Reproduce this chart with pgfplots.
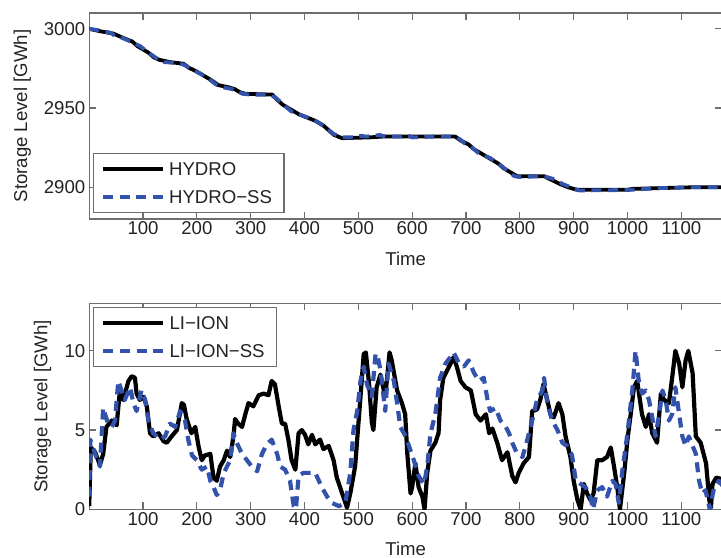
\documentclass[border=0pt]{standalone}
\usepackage{fontspec}
\setmainfont{Liberation Sans}
\usepackage{pgfplots}
\pgfplotsset{compat=1.18}
\definecolor{axgray}{RGB}{110,110,110}
\definecolor{txt}{RGB}{35,35,35}
\definecolor{ssblue}{RGB}{50,82,172}
\begin{document}
\begin{tikzpicture}
\pgfplotsset{
  every axis/.append style={
    scale only axis, width=316.5pt, height=103pt,
    xmin=0, xmax=1176,
    axis line style={axgray, line width=0.6pt},
    every tick/.style={axgray, line width=0.6pt},
    tick align=inside, major tick length=3.5pt,
    xtick={100,200,...,1100},
    font=\fontsize{9.3}{11}\selectfont,
    tick label style={txt},
    /pgf/number format/assume math mode=true,
    /pgf/number format/1000 sep={},
    xticklabel style={inner ysep=1.2pt},
    yticklabel style={inner xsep=1.8pt},
    xlabel={Time}, ylabel={Storage Level [GWh]},
    every axis x label/.style={at={(axis description cs:0.5,0)}, anchor=center, yshift=-20pt, txt},
    legend cell align=left,
    legend image code/.code={\draw[#1] (0pt,0pt) -- (30pt,0pt);},
    legend style={draw=axgray, line width=0.6pt, fill=white, inner xsep=4pt, inner ysep=2.6pt, row sep=3.45pt,
      nodes={inner sep=2pt, text depth=0pt, txt}, font=\fontsize{9.3}{11}\selectfont},
  }
}
\begin{axis}[at={(44.6pt,169pt)}, anchor=south west,
  ymin=2880, ymax=3010, ytick={2900,2950,3000},
  every axis y label/.style={at={(axis description cs:-0.1055,0.5)}, rotate=90, anchor=center, txt},
  legend style={at={(0,0)}, anchor=south west, xshift=1.75pt, yshift=2.85pt}]
\addplot[black, line width=1.9pt, line join=round] coordinates {
(0,3000) (20,2998.5) (45,2997) (55,2995.5) (65,2994) (80,2992) (90,2989) (100,2987) (110,2985) (120,2982)
(130,2980.5) (150,2979) (175,2978) (185,2975.5) (200,2973) (215,2970) (225,2968) (240,2964.5) (260,2963)
(270,2962) (280,2960) (290,2959) (340,2958.5) (350,2955) (360,2952) (375,2949) (390,2946) (405,2944)
(420,2942) (435,2939) (445,2936) (455,2933) (470,2931) (520,2931.5) (545,2932) (680,2932) (690,2929.5)
(705,2927) (715,2924) (730,2921) (745,2918) (760,2915) (770,2912) (785,2909) (795,2907) (845,2907)
(860,2904.5) (875,2902) (890,2900) (905,2898.5) (1000,2898.5) (1010,2899) (1060,2899.5) (1120,2900) (1176,2900)};
\addlegendentry{HYDRO}
\addplot[ssblue, line width=1.9pt, dash pattern=on 5pt off 3.3pt, line join=round] coordinates {
(0,3000) (20,2999) (40,2997.5) (50,2995) (60,2994.5) (80,2991.5) (95,2989) (110,2985) (125,2981.5) (140,2979)
(160,2978.5) (175,2977.5) (190,2974.5) (205,2972) (220,2969) (235,2965) (250,2963) (265,2962) (285,2959)
(300,2958.5) (330,2958.5) (345,2957) (360,2952.5) (375,2948) (390,2946) (410,2943.5) (425,2941) (440,2937.5)
(455,2933.5) (470,2931.5) (490,2931.5) (505,2932.5) (515,2932) (540,2933) (550,2932) (580,2932) (590,2933)
(600,2931.5) (640,2932) (680,2932) (690,2930) (700,2927) (712,2925) (725,2921) (745,2918.5) (760,2915)
(775,2911) (790,2907) (800,2906.5) (845,2907) (865,2905) (880,2902) (895,2900) (910,2898) (1000,2898.3)
(1060,2899.5) (1120,2900) (1176,2900)};
\addlegendentry{HYDRO−SS}
\end{axis}
\begin{axis}[at={(44.6pt,23.85pt)}, anchor=south west,
  ymin=0, ymax=13, ytick={0,5,10},
  every axis y label/.style={at={(axis description cs:-0.0735,0.5)}, rotate=90, anchor=center, txt},
  legend style={at={(0,1)}, anchor=north west, xshift=1.75pt, yshift=-1.85pt}]
\addplot[black, line width=2.1pt, line join=round] coordinates {
(0,0.2) (3,3.9) (11,3.6) (20,2.8) (26,3.5) (32,5.2) (42,5.6) (51,5.3) (57,7.5) (63,6.9) (73,8.1) (79,8.4)
(85,8.3) (88,7.3) (94,6.9) (101,7.1) (107,6.5) (113,4.8) (119,4.6) (129,4.8) (138,4.3) (144,4.2) (153,4.6)
(163,5.0) (172,6.7) (176,6.6) (181,5.7) (190,4.8) (197,5.2) (203,4.0) (209,3.1) (215,3.4) (225,3.5) (231,2.0)
(237,1.8) (243,2.7) (250,3.1) (256,3.7) (262,3.3) (268,4.6) (271,5.7) (277,5.4) (284,5.2) (290,6.0) (296,6.7)
(305,6.5) (315,7.2) (324,7.3) (333,7.2) (339,8.1) (345,7.9) (352,6.5) (358,5.4) (364,5.4) (370,4.4) (376,3.1)
(383,2.5) (389,4.8) (395,5.0) (401,4.7) (407,4.1) (414,4.7) (420,4.1) (429,4.4) (435,3.8) (445,4.0) (454,3.1)
(460,2.0) (470,1.0) (479,0.1) (485,1.0) (494,2.7) (504,7.1) (510,9.8) (514,9.9) (520,7.9) (525,5.5) (528,5.0)
(534,7.7) (541,8.5) (550,7.1) (558,9.9) (562,9.4) (572,7.5) (581,6.7) (587,6.0) (591,3.5) (597,1.0) (600,1.4)
(606,2.9) (612,1.4) (619,0.8) (623,0) (628,2.3) (634,3.7) (643,4.2) (649,4.8) (652,6.9) (658,8.3) (667,8.9)
(677,9.6) (683,9.0) (690,8.1) (699,7.7) (709,7.5) (718,6.0) (727,5.6) (737,6.0) (743,4.8) (749,5.1) (758,4.2)
(767,3.1) (777,3.6) (786,2.1) (792,1.7) (798,2.3) (807,2.9) (817,3.3) (823,6.2) (832,6.3) (838,6.9) (844,7.9)
(851,6.9) (857,6.0) (863,5.8) (872,6.7) (879,6.0) (885,4.6) (894,3.3) (900,1.8) (907,0.6) (913,0) (919,1.6)
(925,1.0) (931,0.6) (937,1.0) (944,3.1) (953,3.1) (962,3.3) (969,3.9) (975,2.7) (981,1.4) (986,0) (994,2.3)
(1000,4.4) (1006,6.0) (1012,7.7) (1018,8.1) (1027,6.0) (1034,5.2) (1040,6.0) (1046,4.8) (1055,4.2) (1062,7.3)
(1068,6.9) (1077,6.7) (1083,8.3) (1089,10) (1096,9.2) (1102,7.7) (1108,9.4) (1113,10) (1121,8.6) (1127,4.6)
(1136,4.2) (1146,2.9) (1152,0.6) (1155,0.1) (1158,1.6) (1165,2.0) (1176,1.9)};
\addlegendentry{LI−ION}
\addplot[ssblue, line width=2.1pt, dash pattern=on 5pt off 3.3pt, line join=round] coordinates {
(0,0.8) (2,4.4) (11,3.5) (20,2.7) (26,6.4) (35,5.4) (42,5.2) (48,5.6) (54,8.1) (60,7.5) (66,6.9) (76,7.7)
(82,6.7) (88,6.2) (97,7.5) (104,6.9) (110,5.6) (119,4.8) (132,4.4) (141,4.6) (150,5.4) (160,5.2) (169,6.2)
(178,5.6) (184,4.4) (191,3.4) (200,3.1) (209,2.5) (219,2.7) (225,1.8) (231,1.4) (237,0.9) (243,1.2) (250,2.3)
(256,2.7) (262,3.1) (268,4.8) (274,4.2) (284,3.5) (293,3.1) (302,2.7) (312,2.4) (321,3.5) (330,4.1) (339,4.4)
(349,3.5) (355,2.7) (364,2.5) (373,1.8) (380,0.2) (384,0) (389,2.1) (398,2.3) (411,2.3) (420,2.3) (432,1.4)
(442,0.8) (451,0.4) (464,0.2) (476,0.4) (485,2.3) (491,5.0) (498,6.2) (504,8.1) (510,9.0) (516,7.9) (525,7.1)
(532,9.8) (535,9.8) (541,8.8) (547,7.1) (550,6.2) (556,9.2) (566,8.1) (572,6.7) (578,5.2) (588,4.6) (594,4.0)
(603,3.1) (612,2.1) (622,1.6) (628,2.7) (634,4.8) (643,6.0) (652,8.3) (662,9.2) (671,9.6) (677,9.9) (687,9.2)
(696,9.0) (705,9.4) (715,8.6) (724,8.1) (733,8.3) (740,6.9) (745,6.2) (755,6.4) (764,5.6) (774,5.2) (780,4.8)
(786,4.2) (795,3.5) (805,3.3) (814,4.4) (823,5.6) (832,6.9) (842,7.5) (845,8.3) (851,6.7) (860,5.6) (870,5.0)
(879,4.2) (888,4.0) (897,3.4) (904,1.8) (913,1.6) (922,1.4) (931,0.8) (936,0) (944,1.2) (953,1.4) (962,0.8)
(972,1.8) (978,1.6) (984,0.4) (990,2.3) (1000,4.8) (1009,7.5) (1015,10) (1021,8.1) (1027,7.3) (1034,7.5)
(1040,6.9) (1046,5.8) (1052,4.6) (1059,6.0) (1065,7.5) (1071,6.9) (1077,5.6) (1083,6.0) (1089,7.7) (1096,6.0)
(1102,4.6) (1108,4.0) (1114,4.6) (1121,4.0) (1127,3.5) (1133,1.8) (1139,1.0) (1145,1.2) (1153,0) (1161,1.4)
(1170,1.8) (1176,1.5)};
\addlegendentry{LI−ION−SS}
\end{axis}
\pgfresetboundingbox
\path[use as bounding box] (0pt,0pt) rectangle (360.5pt,278.5pt);
\end{tikzpicture}
\end{document}
